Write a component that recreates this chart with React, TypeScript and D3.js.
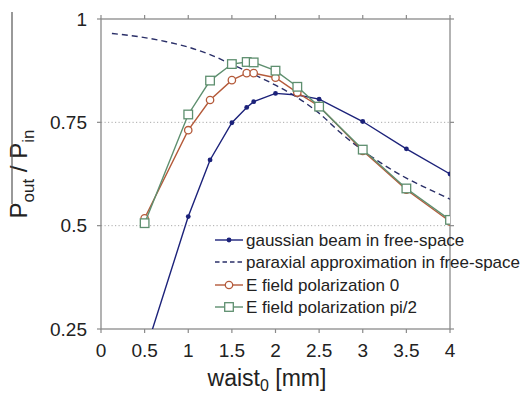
import React from "react";
import { scaleLinear, line, curveMonotoneX } from "d3";

// waist values (mm) and measured ratios
const gaussX = [0.5, 1, 1.25, 1.5, 1.67, 1.75, 2, 2.25, 2.5, 3, 3.5, 4];
const gaussY = [0.19, 0.522, 0.659, 0.749, 0.786, 0.8, 0.82, 0.816, 0.806, 0.752, 0.686, 0.625];

const paraxX = [0.125, 0.5, 0.75, 1, 1.25, 1.5, 1.75, 2, 2.25, 2.5, 2.75, 3, 3.25, 3.5, 3.75, 4];
const paraxY = [0.965, 0.955, 0.945, 0.932, 0.914, 0.89, 0.866, 0.84, 0.81, 0.772, 0.724, 0.682, 0.646, 0.615, 0.589, 0.564];

const polX = [0.5, 1, 1.25, 1.5, 1.67, 1.75, 2, 2.25, 2.5, 3, 3.5, 4];
const pol0Y = [0.518, 0.731, 0.804, 0.852, 0.869, 0.869, 0.858, 0.822, 0.789, 0.681, 0.587, 0.51];
const pol90Y = [0.506, 0.769, 0.851, 0.891, 0.896, 0.895, 0.875, 0.836, 0.788, 0.684, 0.59, 0.514];

const xTicks = [0, 0.5, 1, 1.5, 2, 2.5, 3, 3.5, 4];
const xTickLabels = ["0", "0.5", "1", "1.5", "2", "2.5", "3", "3.5", "4"];
const yTicks = [0.25, 0.5, 0.75, 1];
const yTickLabels = ["0.25", "0.5", "0.75", "1"];
const gridY = [0.5, 0.75];

const legendLabels = [
  "gaussian beam in free-space",
  "paraxial approximation in free-space",
  "E field polarization 0",
  "E field polarization pi/2",
];

const BLUE = "#1c227a";
const DASH = "#2a2f68";
const RED = "#b45a3a";
const GREEN = "#5e8f6f";
const AXIS = "#8a8a8a";
const FONT = "'Liberation Sans', Arial, Helvetica, sans-serif";

const zip = (xs: number[], ys: number[]) => xs.map((x, i) => ({ x, y: ys[i] }));

export default function App() {
  const x = scaleLinear().domain([0, 4]).range([101, 450]);
  const y = scaleLinear().domain([0.25, 1]).range([329, 19]);

  const straight = line<{ x: number; y: number }>()
    .x((d) => x(d.x))
    .y((d) => y(d.y));
  const smooth = line<{ x: number; y: number }>()
    .x((d) => x(d.x))
    .y((d) => y(d.y))
    .curve(curveMonotoneX);

  const gauss = zip(gaussX, gaussY);
  const parax = zip(paraxX, paraxY);
  const pol0 = zip(polX, pol0Y);
  const pol90 = zip(polX, pol90Y);

  const [x0, x1] = x.range();
  const [y0, y1] = y.range();

  const legendRows = [240, 262, 285, 307];

  return (
    <svg
      width={525}
      height={397}
      style={{ position: "absolute", left: 0, top: 0, background: "#fff" }}
      fontFamily={FONT}
    >
      <defs>
        <clipPath id="plot">
          <rect x={x0} y={y1} width={x1 - x0} height={y0 - y1} />
        </clipPath>
      </defs>

      {/* dotted grid */}
      {gridY.map((v) => (
        <line key={v} x1={x0} x2={x1} y1={y(v)} y2={y(v)} stroke="#aaa" strokeWidth={1} strokeDasharray="1.2 2.3" />
      ))}

      {/* frame */}
      <rect x={x0} y={y1} width={x1 - x0} height={y0 - y1} fill="none" stroke={AXIS} strokeWidth={1.3} />
      {xTicks.map((t) => (
        <g key={t}>
          <line x1={x(t)} x2={x(t)} y1={y0} y2={y0 + 4} stroke={AXIS} strokeWidth={1.2} />
          <line x1={x(t)} x2={x(t)} y1={y1} y2={y1 - 4} stroke={AXIS} strokeWidth={1.2} />
        </g>
      ))}
      {yTicks.map((t) => (
        <g key={t}>
          <line x1={x0} x2={x0 - 4} y1={y(t)} y2={y(t)} stroke={AXIS} strokeWidth={1.2} />
          <line x1={x1} x2={x1 + 4} y1={y(t)} y2={y(t)} stroke={AXIS} strokeWidth={1.2} />
        </g>
      ))}

      {/* tick labels */}
      {xTicks.map((t, i) => (
        <text key={t} x={x(t)} y={357} textAnchor="middle" fontSize={19} fill="#222">
          {xTickLabels[i]}
        </text>
      ))}
      {yTicks.map((t, i) => (
        <text key={t} x={87} y={y(t)} dy="0.35em" textAnchor="end" fontSize={19} fill="#222">
          {yTickLabels[i]}
        </text>
      ))}

      {/* axis titles */}
      <text x={267} y={386} textAnchor="middle" fontSize={23} fill="#222">
        waist<tspan fontSize={16} dy={5}>0</tspan>
        <tspan dy={-5}> [mm]</tspan>
      </text>
      <g transform="translate(27,174) rotate(-90)">
        <text x={0} y={0} textAnchor="middle" fontSize={24} fill="#222">
          P<tspan fontSize={17} dy={7}>out</tspan>
          <tspan dy={-7}> / P</tspan>
          <tspan fontSize={17} dy={7}>in</tspan>
        </text>
      </g>
      <line x1={12} x2={12} y1={12} y2={204} stroke="#555" strokeWidth={1.2} />

      {/* series */}
      <g clipPath="url(#plot)">
        <path d={smooth(parax) ?? ""} fill="none" stroke={DASH} strokeWidth={1.4} strokeDasharray="6 4" />
        <path d={straight(gauss) ?? ""} fill="none" stroke={BLUE} strokeWidth={1.4} />
        {gauss.map((d, i) => (
          <circle key={i} cx={x(d.x)} cy={y(d.y)} r={2.4} fill={BLUE} />
        ))}
        <path d={straight(pol0) ?? ""} fill="none" stroke={RED} strokeWidth={1.4} />
        {pol0.map((d, i) => (
          <circle key={i} cx={x(d.x)} cy={y(d.y)} r={3.7} fill="#fff" stroke={RED} strokeWidth={1.3} />
        ))}
        <path d={straight(pol90) ?? ""} fill="none" stroke={GREEN} strokeWidth={1.4} />
        {pol90.map((d, i) => (
          <rect key={i} x={x(d.x) - 4.3} y={y(d.y) - 4.3} width={8.6} height={8.6} fill="#fff" stroke={GREEN} strokeWidth={1.3} />
        ))}
      </g>

      {/* legend */}
      {legendLabels.map((label, i) => {
        const ry = legendRows[i];
        const color = [BLUE, DASH, RED, GREEN][i];
        return (
          <g key={label}>
            <line
              x1={215}
              x2={243}
              y1={ry}
              y2={ry}
              stroke={color}
              strokeWidth={1.4}
              strokeDasharray={i === 1 ? "4.5 3" : undefined}
            />
            {i === 0 && <circle cx={229} cy={ry} r={2.4} fill={BLUE} />}
            {i === 2 && <circle cx={229} cy={ry} r={3.7} fill="#fff" stroke={RED} strokeWidth={1.3} />}
            {i === 3 && <rect x={229 - 4.3} y={ry - 4.3} width={8.6} height={8.6} fill="#fff" stroke={GREEN} strokeWidth={1.3} />}
            <text x={246} y={ry} dy="0.35em" fontSize={17} fill="#222">
              {label}
            </text>
          </g>
        );
      })}
    </svg>
  );
}
